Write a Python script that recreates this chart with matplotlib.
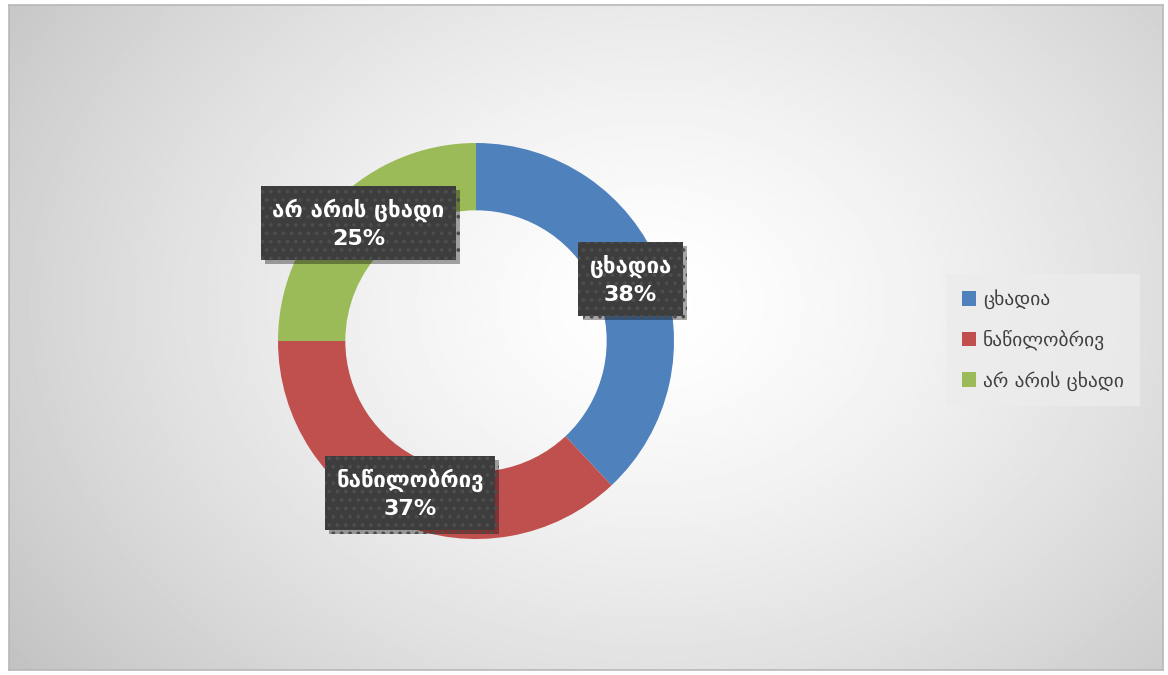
import numpy as np
import matplotlib.pyplot as plt
import matplotlib.patheffects as pe

# Data
categories = ['ცხადია', 'ნაწილობრივ', 'არ არის ცხადი']
shares = [38, 37, 25]
colors = ['#4f81bd', '#c0504d', '#9bbb59']

plt.rcParams['font.family'] = ['DejaVu Sans']

W, H = 1168, 675
fig = plt.figure(figsize=(W / 100, H / 100), dpi=100)
fig.patch.set_facecolor('white')

# Background: radial grey gradient inside the chart frame
bg = fig.add_axes([9 / W, 5 / H, (1163 - 9) / W, (670 - 5) / H])
yy, xx = np.mgrid[0:400, 0:700]
cx, cy = 389, 179
d = np.sqrt(((xx - cx) / 500) ** 2 + ((yy - cy) / 380) ** 2)
shade = 1.0 - 0.25 * np.clip(d, 0, 1.1) ** 1.4
bg.imshow(shade, cmap='gray', vmin=0, vmax=1, aspect='auto', interpolation='bilinear')
bg.set_xticks([])
bg.set_yticks([])
for s in bg.spines.values():
    s.set_color('#b8b8b8')
    s.set_linewidth(1.2)

# Donut
cxp, cyp, r = 476, 341, 198
ax = fig.add_axes([(cxp - 200) / W, (H - cyp - 200) / H, 400 / W, 400 / H])
ax.set_facecolor('none')
wedges, _ = ax.pie(shares, colors=colors, startangle=90, counterclock=False,
                   radius=1.0, wedgeprops=dict(width=0.34, edgecolor='none'))
lim = 200 / r
ax.set_xlim(-lim, lim)
ax.set_ylim(-lim, lim)
ax.set_aspect('equal')
ax.axis('off')

# Data labels in dark boxes with a soft shadow
plt.rcParams['hatch.linewidth'] = 1.5
for w, name, val in zip(wedges, categories, shares):
    ang = np.deg2rad((w.theta1 + w.theta2) / 2)
    x, y = 0.84 * np.cos(ang), 0.84 * np.sin(ang)
    t = ax.text(x, y, f'{name}\n{val}%', ha='center', va='center', fontsize=16,
                fontweight='bold', color='white', linespacing=1.45,
                bbox=dict(boxstyle='square,pad=0.5', fc='#3d3d3d', ec='#4d4d4d',
                          lw=0, hatch='..'))
    t.get_bbox_patch().set_path_effects(
        [pe.SimplePatchShadow(offset=(3, -3), shadow_rgbFace='black', alpha=0.35), pe.Normal()])

# Legend
leg = fig.legend(wedges, categories, loc='center', bbox_to_anchor=(1043 / W, 1 - 340 / H),
                 frameon=True, fontsize=14, labelcolor='#404040', handlelength=0.75,
                 handleheight=0.75, handletextpad=0.35, labelspacing=1.05,
                 borderpad=0.8, fancybox=False)
leg.get_frame().set_facecolor('#ececec')
leg.get_frame().set_edgecolor('none')
leg.get_frame().set_alpha(0.8)

fig.savefig('out.png', dpi=100)
